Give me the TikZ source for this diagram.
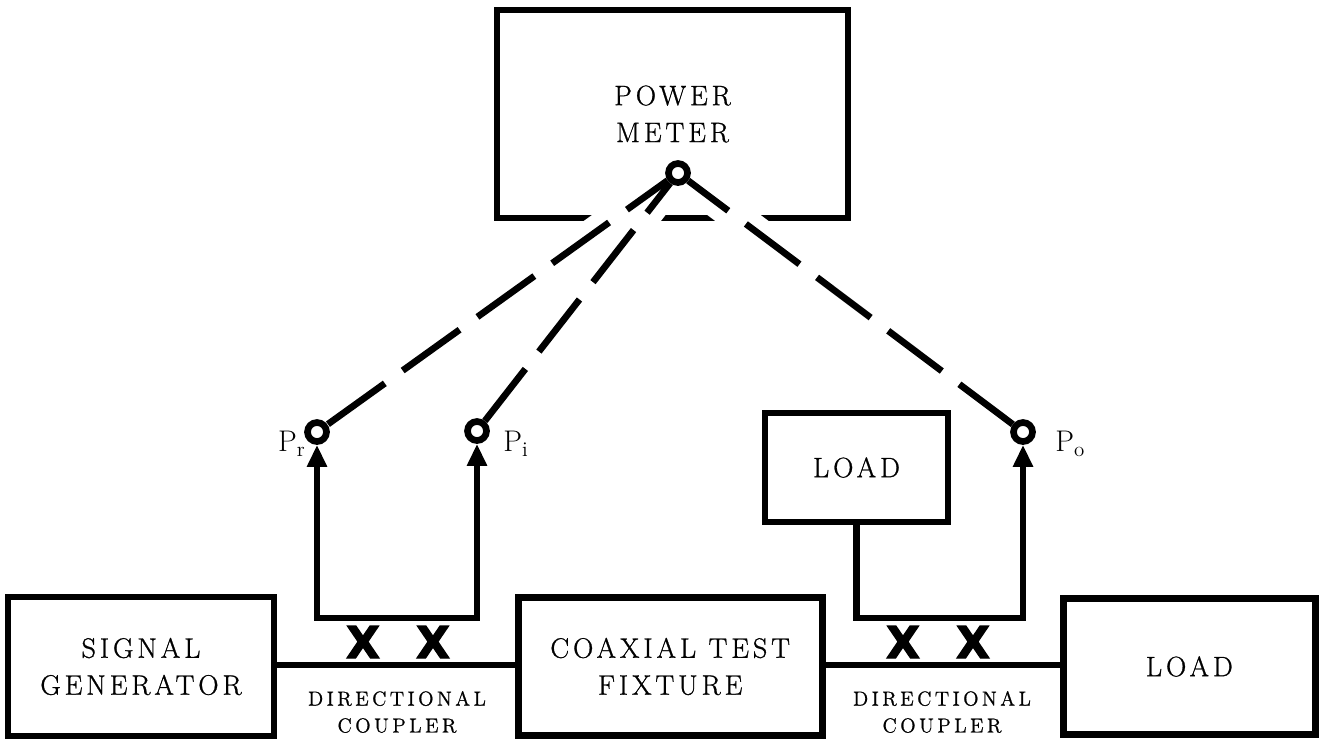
\documentclass[tikz,border=0pt]{standalone}
\usepackage{fontspec}
\usepackage{tikz}
\usetikzlibrary{arrows.meta,positioning}
\newfontfamily\boxfont{Latin Modern Roman}[LetterSpace=14, FakeBold=0.9]
\newfontfamily\cplfont{Latin Modern Roman}[LetterSpace=17, FakeBold=0.9]
\newfontfamily\lblfont{Latin Modern Roman}[FakeBold=0.9]
\newfontfamily\xfont{DejaVu Sans}[BoldFeatures={FakeBold=2.5}]

\begin{document}
\begin{tikzpicture}[
  >={Triangle[length=0.44cm, width=0.38cm]},
  box/.style={draw, line width=3.8pt, inner sep=0pt, align=center, font=\boxfont\fontsize{16}{21}\selectfont},
  port/.style={draw, circle, line width=3.8pt, minimum size=0.38cm, inner sep=0pt, fill=white},
  link/.style={line width=3.8pt},
  probe/.style={line width=3.8pt, dash pattern=on #1 off 0.44cm},
  xmark/.style={inner sep=0pt, font=\xfont\bfseries\fontsize{25}{25}\selectfont},
  cpl/.style={align=center, inner sep=0pt, font=\cplfont\fontsize{11.5}{15.3}\selectfont},
  plabel/.style={inner sep=0pt, font=\lblfont\fontsize{17}{20}\selectfont}
]
\useasboundingbox (0,0) rectangle (26.42,-14.8);

\node[box, minimum width=7.02cm, minimum height=4.16cm] (pm) at (13.45,-2.28) {POWER\\METER};
\node[port] (apex) at (13.56,-3.46) {};
\node[port] (pr) at (6.34,-8.64) {};
\node[port] (pi) at (9.54,-8.62) {};
\node[port] (po) at (20.46,-8.64) {};
\node[box, minimum width=3.66cm, minimum height=2.18cm] (ld) at (17.13,-9.35) {LOAD};
\node[box, minimum width=5.32cm, minimum height=2.78cm] (sg) at (2.82,-13.33) {SIGNAL\\GENERATOR};
\node[box, minimum width=6.08cm, minimum height=2.76cm, right=4.75cm of sg] (coax) {COAXIAL TEST\\FIXTURE};
\node[box, minimum width=5.04cm, minimum height=2.72cm, right=4.69cm of coax] (rl) {LOAD};

\node[plabel, anchor=east] (prl) at (6.12,-8.88) {$\mathrm{P}_{\mathrm{r}}$};
\node[plabel, anchor=west] (pil) at (10.06,-8.88) {$\mathrm{P}_{\mathrm{i}}$};
\node[plabel, anchor=west] (pol) at (21.1,-8.88) {$\mathrm{P}_{\mathrm{o}}$};

\node[xmark] (xa) at (7.26,-12.84) {X};
\node[xmark] (xb) at (8.66,-12.84) {X};
\node[xmark] (xc) at (18.06,-12.84) {X};
\node[xmark] (xd) at (19.46,-12.84) {X};
\node[cpl] (dca) at (7.94,-14.24) {DIRECTIONAL\\COUPLER};
\node[cpl] (dcb) at (18.84,-14.24) {DIRECTIONAL\\COUPLER};

% couplers
\coordinate (cl) at (0,-13.3);
\draw[link] (sg.east |- cl) -- (coax.west |- cl);
\draw[link] (coax.east |- cl) -- (rl.west |- cl);

% sampled arms
\coordinate (ub) at (0,-12.36);
\draw[link, <->] (pr) -- (pr |- ub) -| (pi);
\draw[link, ->] (ld) -- (ld |- ub) -| (po);

% leads to the meter
\begin{scope}
  \clip (9,-4.1) rectangle (18,-4.62);
  \draw[white, line width=0.64cm] (apex.center) -- (pr.center) (apex.center) -- (pi.center) (apex.center) -- (po.center);
\end{scope}
\draw[probe=1.4cm, dash phase=0.4cm] (apex) -- (pr);
\draw[probe=1.32cm, dash phase=0.57cm] (apex) -- (pi);
\draw[probe=1.34cm, dash phase=0.34cm] (apex) -- (po);
\end{tikzpicture}
\end{document}
